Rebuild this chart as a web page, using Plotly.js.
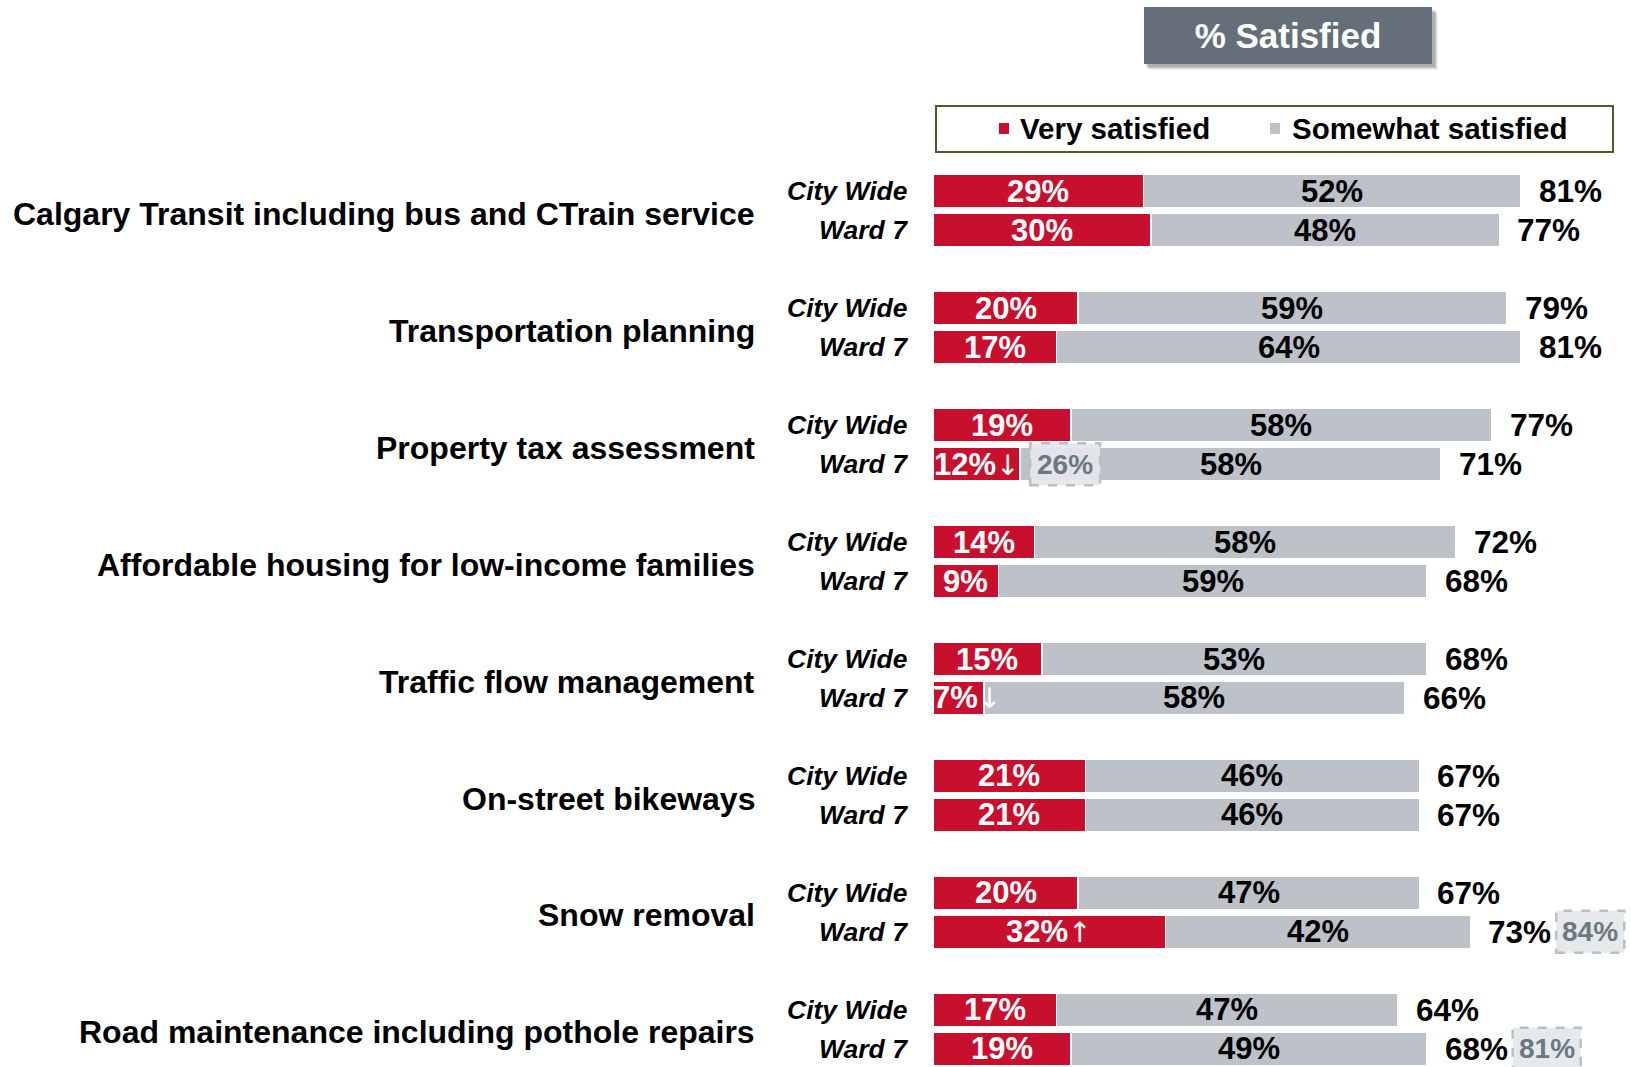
<!DOCTYPE html>
<html>
<head>
<meta charset="utf-8">
<script src="https://cdn.plot.ly/plotly-3.0.1.min.js"></script>
<style>html,body{margin:0;padding:0;background:#fff;}#chart{width:1631px;height:1067px;}</style>
</head>
<body>
<div id="chart"></div>
<script>
// ---- DATA ----
const categories = [
  "Calgary Transit including bus and CTrain service",
  "Transportation planning",
  "Property tax assessment",
  "Affordable housing for low-income families",
  "Traffic flow management",
  "On-street bikeways",
  "Snow removal",
  "Road maintenance including pothole repairs"
];
const rowLabels = ["City Wide", "Ward 7"];
const cityVery      = [29, 20, 19, 14, 15, 21, 20, 17];
const citySomewhat  = [52, 59, 58, 58, 53, 46, 47, 47];
const cityTotal     = [81, 79, 77, 72, 68, 67, 67, 64];
const wardVery      = [30, 17, 12,  9,  7, 21, 32, 19];
const wardSomewhat  = [48, 64, 58, 59, 58, 46, 42, 49];
const wardTotal     = [77, 81, 71, 68, 66, 67, 73, 68];
const wardVeryArrow = ["", "", "↓", "", "↓", "", "↑", ""];
const wardPrevVery  = [null, null, 26, null, null, null, null, null];
const wardPrevTotal = [null, null, null, null, null, null, 84, 81];
const seriesNames = ["Very satisfied", "Somewhat satisfied"];
const chartTitle = "% Satisfied";

// ---- STYLE ----
const RED = "#c8102e", GREY = "#bcc2c8", FONT = "Liberation Sans, Arial, sans-serif";
const PX_PER_UNIT = 698 / 96.14;

// ---- BUILD ----
const yVals = [], veryX = [], someX = [], totals = [], arrows = [], prevV = [], prevT = [];
categories.forEach((c, i) => {
  yVals.push(3 * i, 3 * i + 1);
  veryX.push(cityVery[i], wardVery[i]);
  someX.push(citySomewhat[i], wardSomewhat[i]);
  totals.push(cityTotal[i], wardTotal[i]);
  arrows.push("", wardVeryArrow[i]);
  prevV.push(null, wardPrevVery[i]);
  prevT.push(null, wardPrevTotal[i]);
});

const traces = [
  {type: "bar", orientation: "h", name: seriesNames[0], x: veryX, y: yVals, width: 0.86,
   marker: {color: RED, line: {color: "#ffffff", width: 1.5}}, hoverinfo: "x"},
  {type: "bar", orientation: "h", name: seriesNames[1], x: someX, y: yVals, width: 0.86,
   marker: {color: GREY, line: {color: "#ffffff", width: 1.5}}, hoverinfo: "x"}
];

const ann = [], shapes = [];
function estWidth(t, size) {
  let w = 0;
  for (const ch of t) w += ch === "%" ? 0.889 : (/[0-9]/.test(ch) ? 0.556 : 0.7);
  return w * size;
}
const arrowSpan = a => a ? '<span style="font-family:DejaVu Sans;font-weight:normal;font-size:28px">' + a + '</span>' : '';
categories.forEach((c, i) => {
  ann.push({xref: "paper", x: -0.2521, xanchor: "right", yref: "y", y: 3 * i + 0.58, yanchor: "middle",
    text: c, showarrow: false, font: {family: FONT, size: 32, weight: 700, color: "#000"}});
});
yVals.forEach((y, k) => {
  ann.push({xref: "x", x: 0, xshift: -23, xanchor: "right", yref: "y", y: y, yanchor: "middle",
    text: rowLabels[k % 2], showarrow: false, font: {family: FONT, size: 26.5, weight: 700, style: "italic", color: "#000"}});
  const redTxt = veryX[k] + "%" + arrows[k];
  const fits = estWidth(redTxt, 31) < veryX[k] * PX_PER_UNIT;
  ann.push({xref: "x", x: fits ? veryX[k] / 2 : 0, xanchor: fits ? "center" : "left", xshift: fits ? 0 : -2, yref: "y", y: y, yanchor: "middle",
    text: veryX[k] + "%" + arrowSpan(arrows[k]), showarrow: false, font: {family: FONT, size: 31, weight: 700, color: "#fff"}});
  ann.push({xref: "x", x: veryX[k] + someX[k] / 2, xanchor: "center", yref: "y", y: y, yanchor: "middle",
    text: someX[k] + "%", showarrow: false, font: {family: FONT, size: 31, weight: 700, color: "#000"}});
  ann.push({xref: "x", x: veryX[k] + someX[k], xshift: 16, xanchor: "left", yref: "y", y: y, yanchor: "middle",
    text: totals[k] + "%", showarrow: false, font: {family: FONT, size: 31.5, weight: 700, color: "#000"}});
  const boxes = [];
  if (prevV[k] != null) boxes.push({anchor: veryX[k], v: prevV[k], x0: 10, x1: 80});
  if (prevT[k] != null) boxes.push({anchor: veryX[k] + someX[k], v: prevT[k], x0: 86, x1: 154});
  boxes.forEach(b => {
    shapes.push({type: "rect", layer: "above", xref: "x", xsizemode: "pixel", xanchor: b.anchor, x0: b.x0, x1: b.x1,
      yref: "y", ysizemode: "pixel", yanchor: y, y0: -21, y1: 21,
      fillcolor: "rgba(228,231,234,0.92)", line: {color: "#b8bfc6", width: 2.5, dash: "dash"}});
    ann.push({xref: "x", x: b.anchor, xshift: (b.x0 + b.x1) / 2, xanchor: "center", yref: "y", y: y, yanchor: "middle",
      text: b.v + "%", showarrow: false, font: {family: FONT, size: 28, weight: 700, color: "#6c7881"}});
  });
});

// title box (shadow + box)
const px2x = p => (p - 933) / 698, py2y = p => 1 - (p - 168) / 899;
[[6, 0.06], [5, 0.08], [4, 0.10], [3, 0.12]].forEach(([o, a]) => {
  shapes.push({type: "rect", xref: "paper", yref: "paper", x0: px2x(1144 + o - 1), x1: px2x(1432 + o), y0: py2y(64 + o), y1: py2y(7 + o),
    fillcolor: "rgba(0,0,0," + a + ")", line: {width: 0}});
});
shapes.push({type: "rect", xref: "paper", yref: "paper", x0: px2x(1144), x1: px2x(1432), y0: py2y(64), y1: py2y(7),
  fillcolor: "#646f79", line: {width: 0}});
// legend box
shapes.push({type: "rect", xref: "paper", yref: "paper", x0: px2x(936), x1: px2x(1613), y0: py2y(152), y1: py2y(106),
  fillcolor: "#ffffff", line: {color: "#4f5b2b", width: 2}});
const legendItems = [{sq: 999, tx: 1018, color: RED, name: seriesNames[0]}, {sq: 1270, tx: 1290, color: GREY, name: seriesNames[1]}];
legendItems.forEach(it => {
  shapes.push({type: "rect", xref: "paper", yref: "paper", x0: px2x(it.sq), x1: px2x(it.sq + 10), y0: py2y(134), y1: py2y(123),
    fillcolor: it.color, line: {width: 0}});
  ann.push({xref: "paper", x: px2x(it.tx), xanchor: "left", yref: "paper", y: py2y(128), yanchor: "middle",
    text: it.name, showarrow: false, font: {family: FONT, size: 29.5, weight: 700, color: "#000"}});
});

const layout = {
  width: 1631, height: 1067,
  margin: {l: 933, r: 0, t: 168, b: 0, pad: 0},
  paper_bgcolor: "#ffffff", plot_bgcolor: "#ffffff",
  barmode: "stack", bargap: 0, showlegend: false,
  title: {text: chartTitle, x: 1288 / 1631, xref: "container", xanchor: "center", y: 1 - 36 / 1067, yref: "container", yanchor: "middle",
    font: {family: FONT, size: 35, weight: 700, color: "#ffffff"}},
  xaxis: {range: [0, 96.14], visible: false, fixedrange: true},
  yaxis: {range: [22.47, -0.6], visible: false, fixedrange: true},
  annotations: ann, shapes: shapes
};
Plotly.newPlot("chart", traces, layout, {displayModeBar: false, staticPlot: true});
</script>
</body>
</html>
